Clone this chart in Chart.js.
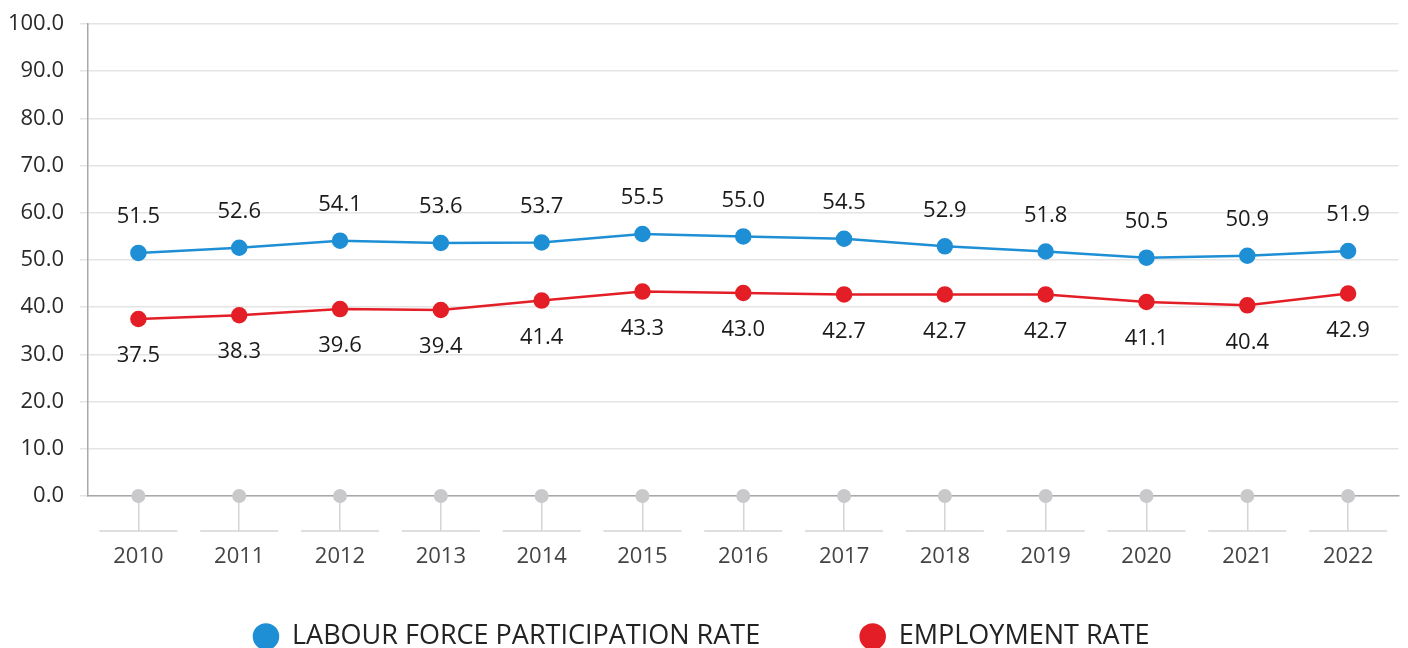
<!DOCTYPE html>
<html>
<head>
<meta charset="utf-8">
<script src="https://cdn.jsdelivr.net/npm/chart.js@4"></script>
<style>
  html, body { margin: 0; padding: 0; background: #fff; overflow: hidden; }
  #wrap { width: 1408px; height: 660px; }
</style>
</head>
<body>
<div id="wrap"><canvas id="myChart"></canvas></div>
<script>
// data
const years = ["2010", "2011", "2012", "2013", "2014", "2015", "2016", "2017", "2018", "2019", "2020", "2021", "2022"]
const participation = [51.5, 52.6, 54.1, 53.6, 53.7, 55.5, 55.0, 54.5, 52.9, 51.8, 50.5, 50.9, 51.9]
const employment = [37.5, 38.3, 39.6, 39.4, 41.4, 43.3, 43.0, 42.7, 42.7, 42.7, 41.1, 40.4, 42.9]
const baseline = [0, 0, 0, 0, 0, 0, 0, 0, 0, 0, 0, 0, 0]

const FONT = "'Open Sans', sans-serif"
const BLUE = "#1e8fd5"
const RED = "#e41e26"
const GREY = "#c9c9cc"

// value labels above / below the points
const valueLabels = {
  id: "valueLabels",
  afterDatasetsDraw(chart) {
    const ctx = chart.ctx
    ctx.save()
    ctx.font = "22px " + FONT
    ctx.fillStyle = "#1a1a1a"
    ctx.textAlign = "center"
    ctx.textBaseline = "middle"
    ;[0, 1].forEach((di) => {
      const meta = chart.getDatasetMeta(di)
      const vals = chart.data.datasets[di].data
      meta.data.forEach((pt, i) => {
        const off = di === 0 ? -36 : 37
        ctx.fillText(vals[i].toFixed(1), pt.x, pt.y + off)
      })
    })
    ctx.restore()
  },
}

// short horizontal bars under each year stem
const yearBars = {
  id: "yearBars",
  afterDraw(chart) {
    const x = chart.scales.x
    const ctx = chart.ctx
    const y = x.top + 35
    ctx.save()
    ctx.strokeStyle = "#d4d4d4"
    ctx.lineWidth = 1.5
    years.forEach((yr, i) => {
      const cx = x.getPixelForValue(i)
      ctx.beginPath()
      ctx.moveTo(cx - 39, y)
      ctx.lineTo(cx + 39, y)
      ctx.stroke()
    })
    ctx.restore()
  },
}

const data = {
  labels: years,
  datasets: [
    {
      label: "LABOUR FORCE PARTICIPATION RATE",
      data: participation,
      borderColor: BLUE,
      backgroundColor: BLUE,
      borderWidth: 2.5,
      pointRadius: 7,
      pointHoverRadius: 7,
      tension: 0,
    },
    {
      label: "EMPLOYMENT RATE",
      data: employment,
      borderColor: RED,
      backgroundColor: RED,
      borderWidth: 2.5,
      pointRadius: 7,
      pointHoverRadius: 7,
      tension: 0,
    },
    {
      label: "base",
      data: baseline,
      showLine: false,
      borderColor: GREY,
      backgroundColor: GREY,
      pointRadius: 7,
      pointBorderWidth: 0,
    },
  ],
}

const config = {
  type: "line",
  data: data,
  plugins: [valueLabels, yearBars],
  options: {
    responsive: true,
    maintainAspectRatio: false,
    animation: false,
    clip: false,
    layout: { padding: { top: 24, right: 5, left: 0, bottom: 0 } },
    scales: {
      y: {
        min: 0,
        max: 100,
        ticks: {
          stepSize: 10,
          padding: 16,
          color: "#2a2a2a",
          font: { family: FONT, size: 22 },
          callback: (v) => v.toFixed(1),
        },
        grid: { color: "#e4e4e4", lineWidth: 1.5, tickLength: 8 },
        border: { color: "#a8a8a8", width: 1.5 },
        afterFit: (s) => {
          s.width = 88
          s.paddingTop = 0
          s.paddingBottom = 0
        },
      },
      x: {
        offset: true,
        ticks: {
          mirror: true, // keeps labels unclipped while the axis box stays short
          padding: -74,
          color: "#444",
          font: { family: FONT, size: 22 },
        },
        grid: {
          offset: false,
          drawOnChartArea: false,
          color: "#d4d4d4",
          lineWidth: 1.5,
          tickLength: 35,
        },
        border: { color: "#a8a8a8", width: 1.5 },
        afterFit: (s) => { s.height = 27 },
      },
    },
    plugins: {
      tooltip: { enabled: false },
      legend: {
        position: "bottom",
        labels: {
          usePointStyle: true,
          pointStyle: "circle",
          boxWidth: 25,
          boxHeight: 17,
          padding: 100,
          color: "#222",
          font: { family: FONT, size: 27 },
          filter: (item) => item.datasetIndex < 2,
        },
      },
    },
  },
}

const myChart = new Chart(document.getElementById("myChart"), config)
</script>
</body>
</html>
